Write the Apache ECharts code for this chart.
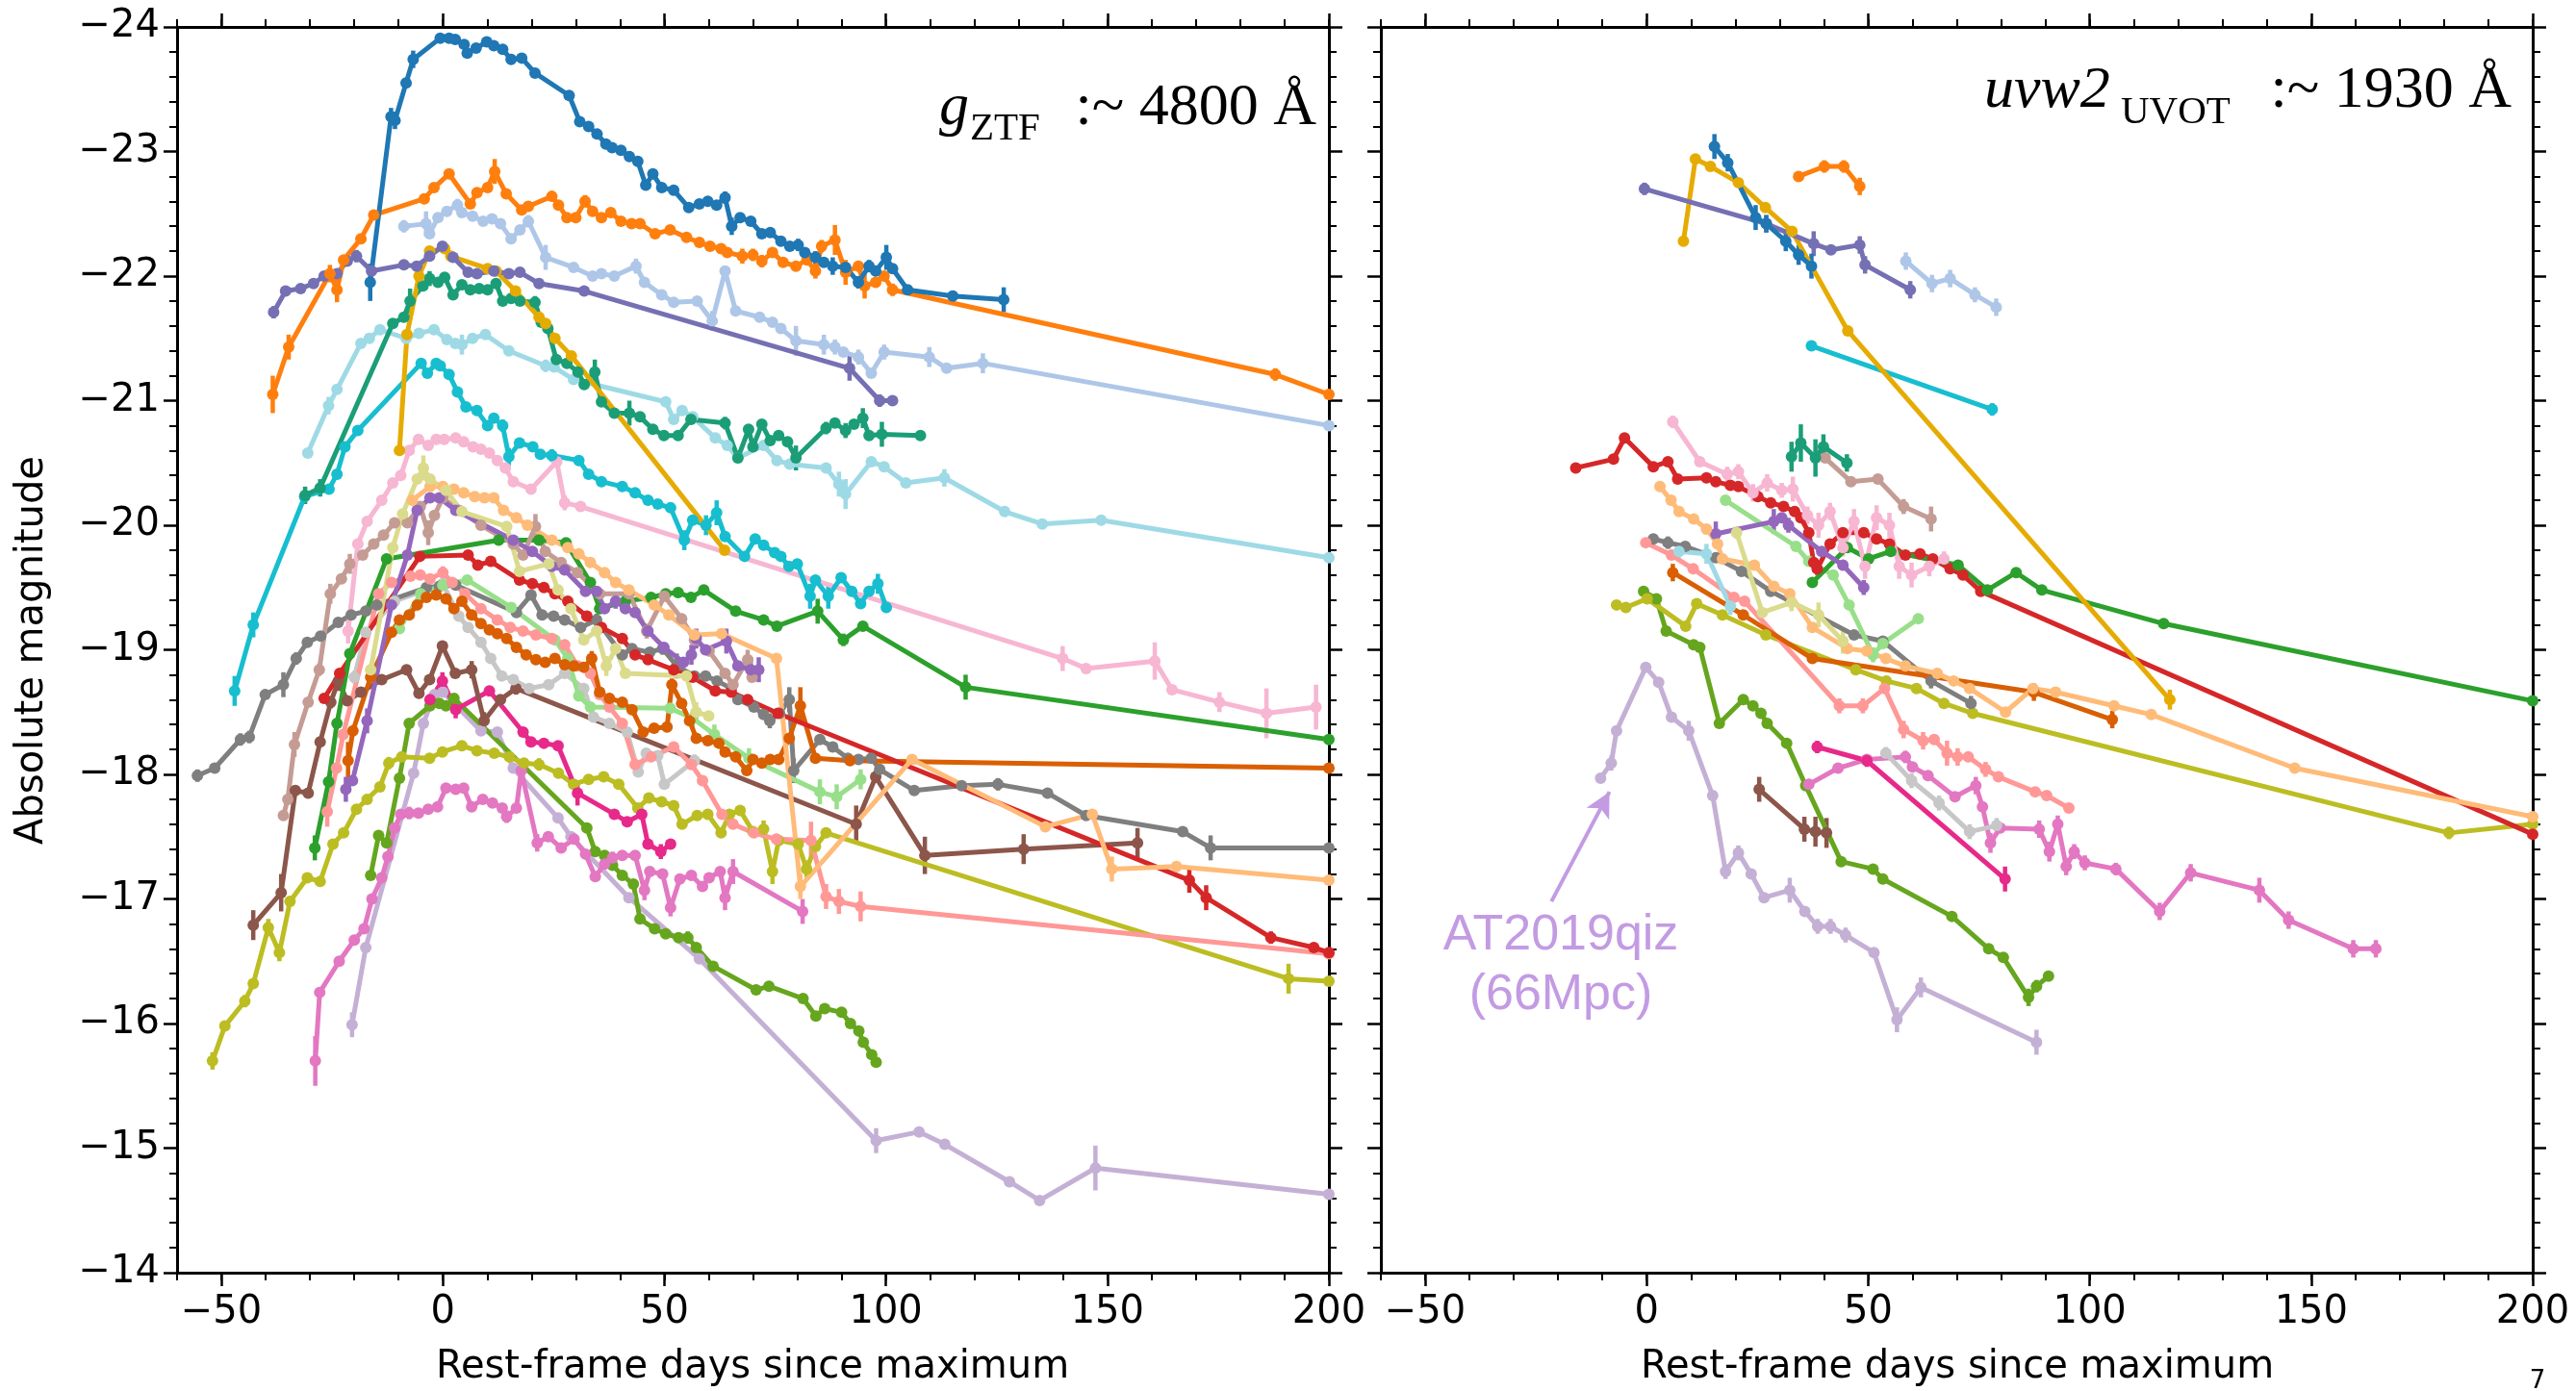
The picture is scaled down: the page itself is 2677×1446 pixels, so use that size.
<!DOCTYPE html>
<html><head><meta charset="utf-8">
<script src="https://cdn.jsdelivr.net/npm/echarts@6/dist/echarts.min.js"></script>
<style>html,body{margin:0;padding:0;background:#fff}#c{width:2677px;height:1446px}</style>
</head><body><div id="c"></div>
<script>
// ---------- tick values ----------
const xTicks = [-50, 0, 50, 100, 150, 200];
const yTicks = [-24, -23, -22, -21, -20, -19, -18, -17, -16, -15, -14];

// ---------- g_ZTF panel: [day, abs mag, err] ----------
const g_blue = [[-16.4,-21.95,0.15],[-11.7,-23.28,0.07],[-10.8,-23.25,0.07],[-8.3,-23.55],[-6.7,-23.74,0.07],[-0.6,-23.91],[1.4,-23.91],[2.8,-23.9],[4.8,-23.86],[5.5,-23.79],[7.5,-23.83],[9.9,-23.88],[11.5,-23.85],[13.5,-23.82],[15.4,-23.74],[17.8,-23.75],[20.8,-23.63],[28.5,-23.45],[30.9,-23.24],[32.9,-23.2],[34.8,-23.14],[36.8,-23.06],[38.2,-23.03],[40.2,-23.01],[42.1,-22.96],[44.0,-22.92],[45.8,-22.73],[47.4,-22.82],[49.4,-22.71],[52.1,-22.69],[55.5,-22.55],[57.9,-22.58],[59.8,-22.6],[61.8,-22.57],[63.7,-22.63,0.05],[65.2,-22.4,0.07],[67.1,-22.47],[69.5,-22.44],[72,-22.34],[73.9,-22.35],[76.3,-22.28],[78.3,-22.24],[80.2,-22.25,0.05],[81.7,-22.19],[84.1,-22.15,0.05],[86,-22.11],[88,-22.08,0.07],[90.9,-22.07],[93.8,-21.95,0.05],[96.2,-22.08,0.05],[97.7,-22.04],[100.1,-22.15,0.1],[101.5,-22.06],[104.9,-21.89],[115.1,-21.84,0.04],[126.6,-21.81,0.1]];
const g_orange = [[-38.4,-21.05,0.15],[-34.8,-21.43,0.1],[-25.5,-22.02,0.07],[-23.9,-21.89,0.1],[-22.4,-22.13],[-18.5,-22.3],[-15.6,-22.49],[-4.2,-22.62,0.04],[-2.0,-22.71],[1.4,-22.82],[6.2,-22.58],[7.7,-22.67],[10.1,-22.71],[11.7,-22.84,0.1],[14.3,-22.66],[17.8,-22.53],[19.3,-22.56],[24.6,-22.64],[26.1,-22.57],[28,-22.47],[30,-22.47],[32.1,-22.6,0.05],[33.8,-22.52],[35.8,-22.47],[37.9,-22.51],[40.2,-22.44],[42.6,-22.42],[44.5,-22.42],[47.9,-22.34],[51.3,-22.37],[55,-22.31],[57.9,-22.27],[60.3,-22.24],[62.8,-22.22],[64.2,-22.19],[67.6,-22.16,0.06],[70,-22.17,0.05],[72,-22.12,0.05],[74.4,-22.19],[76.8,-22.11],[79.7,-22.08],[82.2,-22.13],[84.1,-22.04,0.06],[85.5,-22.24,0.05],[88.5,-22.29,0.12],[90.9,-22.03,0.1],[93.8,-22.08],[95.2,-21.92,0.1],[97.7,-21.95],[99.6,-22.0],[101.5,-21.89,0.05],[187.9,-21.21,0.05],[200,-21.05]];
const g_lightblue = [[-8.8,-22.40,0.05],[-3.8,-22.42,0.1],[-3.0,-22.34],[-1.1,-22.47],[0.9,-22.52],[3.3,-22.57,0.05],[4.3,-22.51],[6.7,-22.48],[9.1,-22.44],[11.1,-22.46],[13,-22.42],[15.4,-22.3],[17.4,-22.37],[19.3,-22.44,0.05],[23.2,-22.15,0.1],[29.5,-22.07],[33.8,-22.0],[35.8,-22.02],[38.7,-22.0],[43.6,-22.08,0.06],[45.5,-21.95],[49.4,-21.85],[52.1,-21.79],[57.4,-21.8],[60.8,-21.64,0.08],[63.7,-22.04],[66.1,-21.72],[71.5,-21.67],[74.4,-21.63],[76.3,-21.58],[79.7,-21.48,0.12],[86,-21.45,0.08],[88.5,-21.43,0.06],[90.4,-21.39],[93.8,-21.35,0.06],[96.7,-21.22],[99.6,-21.39,0.06],[109.8,-21.35,0.08],[113.7,-21.26],[121.9,-21.3,0.08],[200,-20.8]];
const g_purple2 = [[-38.2,-21.71,0.05],[-35.5,-21.88],[-32.1,-21.9],[-29.2,-21.94],[-26.8,-22.0],[-23.9,-22.02],[-21.6,-22.12],[-19.5,-22.16,0.05],[-16.1,-22.04],[-8.8,-22.09],[-5.9,-22.08],[-3.0,-22.16],[-0.1,-22.24],[2.3,-22.15],[5.7,-22.03],[7.7,-22.02],[11.5,-22.04],[14.9,-22.02],[17.4,-22.03],[21.7,-21.94,0.04],[31.9,-21.88],[91.8,-21.26,0.1],[98.6,-21.0,0.05],[101.5,-21.0]];
const g_gold = [[-9.8,-20.6],[-8.1,-21.53],[-5.4,-22.0],[-3.0,-22.2],[0.4,-22.22],[1.8,-22.16],[10.1,-22.06],[12.0,-22.04],[16.4,-21.88],[21.7,-21.67],[23.2,-21.62],[25.3,-21.5],[29,-21.36],[63.6,-19.8]];
const g_teal = [[-31.1,-20.24,0.07],[-27.7,-20.3,0.07],[-11.3,-21.62],[-8.8,-21.67],[-7.4,-21.8,0.1],[-4.5,-21.92],[-3.0,-21.98,0.06],[-1.1,-21.95],[0.4,-21.99],[2.3,-21.85],[4.3,-21.93],[6.2,-21.89],[8.2,-21.9],[10.1,-21.89],[12,-21.94],[13.5,-21.8],[15.4,-21.82],[17.4,-21.8],[20.8,-21.79,0.05],[22.2,-21.63],[23.7,-21.58],[25.6,-21.33],[28,-21.3],[30.5,-21.23],[31.9,-21.13,0.04],[34.3,-21.23,0.1],[35.8,-20.99],[38.7,-20.9],[42.1,-20.9,0.1],[44.5,-20.87],[47.4,-20.77],[49.9,-20.72],[53.1,-20.72],[56,-20.85],[63.7,-20.82,0.05],[66.6,-20.54],[69,-20.77],[70,-20.63],[72,-20.81],[73.9,-20.68],[75.8,-20.72],[77.8,-20.67],[79.7,-20.54,0.1],[86.5,-20.78,0.05],[88.5,-20.82],[90.9,-20.76,0.06],[92.8,-20.81],[94.8,-20.86,0.08],[96.2,-20.72],[99.1,-20.73,0.1],[107.8,-20.72]];
const g_lightcyan = [[-30.5,-20.58],[-25.8,-20.96,0.07],[-23.9,-21.09],[-18.5,-21.46],[-16.6,-21.5],[-14.2,-21.57],[-8.3,-21.5],[-5.4,-21.54],[-2.0,-21.57],[0.9,-21.49],[2.8,-21.46],[4.3,-21.45,0.08],[6.7,-21.5],[9.6,-21.53],[14.9,-21.4],[23.2,-21.28,0.05],[25.1,-21.27],[29.5,-21.17],[50.3,-20.99],[52.1,-20.85],[54,-20.92],[56.4,-20.87],[61.5,-20.7],[64.2,-20.64],[66.6,-20.54],[72.4,-20.64],[75.4,-20.52],[78.3,-20.49],[86.5,-20.46],[89.4,-20.33,0.1],[90.9,-20.25,0.12],[96.7,-20.51],[99.6,-20.47],[104.5,-20.34],[113.2,-20.38,0.07],[126.8,-20.11],[135.3,-20.01],[148.6,-20.04],[200,-19.74]];
const g_cyan = [[-47,-18.67,0.12],[-42.8,-19.2,0.1],[-31.2,-20.23],[-25.7,-20.29],[-23.9,-20.41],[-22.1,-20.63],[-19.2,-20.76],[-4.9,-21.3],[-3.5,-21.22],[-1.5,-21.3],[-0.6,-21.28],[1.4,-21.21],[3.3,-21.07],[5.2,-20.95],[7.7,-20.92],[10.1,-20.8],[11.5,-20.86],[13.5,-20.8,0.05],[14.9,-20.55,0.07],[17.3,-20.66],[20.3,-20.63],[22.0,-20.57],[24.6,-20.56,0.05],[30.7,-20.52],[32.9,-20.41],[35.8,-20.35],[40.5,-20.31],[43.4,-20.26],[46.3,-20.2],[48.5,-20.17],[51.4,-20.14],[54.5,-19.88,0.08],[56.4,-20.04],[59.4,-20.0,0.08],[61.8,-20.1,0.1],[63.7,-19.91],[68.1,-19.75],[70.5,-19.89],[72.4,-19.84],[74.9,-19.78],[76.3,-19.75],[78.1,-19.67],[80,-19.69],[82.9,-19.43,0.1],[84.1,-19.56],[87,-19.43,0.1],[89.9,-19.58],[92.3,-19.47],[94.3,-19.37],[96.2,-19.47],[98.2,-19.53,0.08],[100.1,-19.34]];
const g_lightpink = [[-21.4,-19.15,0.1],[-19.2,-19.85],[-17.1,-20.03],[-13.8,-20.2],[-11.3,-20.34],[-9.5,-20.4],[-7.6,-20.6],[-5.5,-20.69],[-3.3,-20.64],[-1.5,-20.69],[0.3,-20.69],[2.9,-20.70],[4.7,-20.67],[6.8,-20.63],[8.6,-20.61],[10.5,-20.58],[12.3,-20.52],[14.1,-20.46],[15.9,-20.35],[19.9,-20.29],[25.7,-20.51,0.05],[27.5,-20.18,0.06],[31.1,-20.15],[139.9,-18.93,0.1],[145.2,-18.85],[160.7,-18.91,0.15],[164.6,-18.68],[175.3,-18.58,0.08],[185.9,-18.49,0.2],[197.1,-18.54,0.18]];
const g_green = [[-28.9,-17.41,0.1],[-25.8,-17.94],[-23.9,-18.41],[-21,-18.97],[-12.7,-19.73],[12.6,-19.88],[21.7,-19.88],[27.8,-19.86],[33.3,-19.54],[35.4,-19.33],[41.2,-19.39],[47,-19.42],[50.3,-19.45],[53.1,-19.46],[56,-19.42],[58.9,-19.48],[66.1,-19.31],[72.4,-19.24],[75.4,-19.19],[84.6,-19.31,0.1],[90.4,-19.08,0.05],[94.8,-19.19],[118,-18.7,0.1],[200,-18.28]];
const g_red = [[-26.8,-18.61],[-23.3,-18.81],[-5.2,-19.75],[5.7,-19.76],[7.9,-19.68],[10.8,-19.71],[17.3,-19.56],[20.2,-19.53],[22.8,-19.5],[25.3,-19.45],[28.2,-19.39],[32.5,-19.27],[35.8,-19.18],[40.5,-19.09],[43.4,-18.96],[46.3,-18.92],[52.1,-18.84],[56.4,-18.78],[61.5,-18.67],[65.1,-18.66],[68.8,-18.6],[75.6,-18.49],[168.5,-17.15,0.1],[172.3,-17.01,0.1],[186.9,-16.69,0.05],[196.6,-16.61],[200,-16.57]];
const g_salmon = [[-26.1,-17.7,0.12],[-24,-18.05],[-22.5,-18.32],[-14.5,-19.45],[-11.6,-19.54],[-7.3,-19.59],[-5.1,-19.6],[-2.9,-19.57],[0,-19.62,0.05],[2.1,-19.54],[5,-19.45],[8.6,-19.33],[12.3,-19.24],[15.2,-19.18],[18.1,-19.15],[21,-19.12],[24.6,-19.09],[27.5,-19.04],[30.4,-18.87],[33.3,-18.81],[35.4,-18.64],[37.6,-18.54],[40.5,-18.41],[43.4,-18.08],[47,-18.14],[52.1,-18.22],[56.1,-18.08],[58.6,-17.95],[63,-17.68],[65.5,-17.6],[70.2,-17.53],[75.3,-17.48],[83.1,-17.47,0.15],[86.5,-17.02,0.1],[89.4,-16.98,0.1],[94.3,-16.94,0.12],[200,-16.56]];
const g_lightgreen = [[-9.8,-19.17],[-5,-19.45],[0,-19.52],[5.5,-19.56],[15.4,-19.34],[25.3,-19.08],[28.2,-18.93],[30.7,-18.63],[33.3,-18.54],[51.3,-18.53],[56.4,-18.45,0.07],[61.3,-18.32,0.08],[69.1,-18.13,0.08],[85.1,-17.86,0.1],[88.9,-17.82,0.1],[94.3,-17.96,0.08]];
const g_grey = [[-55.4,-17.99,0.05],[-51.5,-18.05],[-45.7,-18.28,0.05],[-43.7,-18.3,0.05],[-40.1,-18.64],[-36,-18.72,0.1],[-33.1,-18.93,0.05],[-30.6,-19.06],[-27.6,-19.11],[-23.6,-19.22],[-20.7,-19.28],[-17.4,-19.31],[-14.9,-19.36],[-3.7,-19.5],[-0.8,-19.51],[2.9,-19.52],[16.6,-19.3],[19.9,-19.44],[22.4,-19.28],[25,-19.27],[27.5,-19.24],[31.1,-19.18],[34.7,-19.24,0.05],[40.5,-18.96],[42.7,-19.01],[46.7,-18.98],[49.6,-19.01,0.05],[52.8,-18.87,0.1],[56.8,-18.79],[59.3,-18.79],[61.9,-18.75],[65.1,-18.69],[66.6,-18.6],[70.2,-18.54],[72.4,-18.48],[73.8,-18.43,0.06],[76,-18.49],[78.2,-18.6,0.1],[79.2,-18.03,0.1],[85.1,-18.28],[88,-18.22],[91.4,-18.13],[93.8,-18.12],[96.7,-18.13],[98.6,-18.04],[106.4,-17.87],[117.1,-17.91],[125.3,-17.92,0.05],[136.5,-17.85],[145.2,-17.67],[167,-17.54],[173.3,-17.41,0.1],[200,-17.41]];
const g_darkorange = [[-21.4,-18.11,0.15],[-20.3,-18.35],[-16.3,-18.78],[-11.6,-19.14],[-9.8,-19.24],[-7.6,-19.28],[-5.8,-19.36],[-3.7,-19.42],[-1.5,-19.44],[0.7,-19.41],[2.5,-19.33],[4.3,-19.39],[6.5,-19.28],[8.6,-19.21],[10.5,-19.16],[12.3,-19.13],[14.4,-19.09],[16.6,-19.02],[18.8,-18.96],[21,-18.92],[23.1,-18.9],[25.3,-18.93],[27.5,-18.88],[29.6,-18.87],[31.8,-18.86],[33.6,-18.93,0.06],[35.4,-18.66],[37.6,-18.61],[40.5,-18.58],[42.7,-18.52],[45.2,-18.34],[47.7,-18.37],[50.6,-18.38],[51.7,-18.72,0.05],[53.9,-18.57],[55.7,-18.43],[57.2,-18.29],[59.8,-18.27],[62.3,-18.25],[63.7,-18.18],[66.1,-18.14],[68.6,-18.03],[70,-18.12],[72,-18.09],[73.9,-18.12],[75.8,-18.12],[78.2,-18.29],[80.7,-18.55,0.15],[84.1,-18.13],[91.9,-18.11],[200,-18.05]];
const g_lightgrey = [[-20,-18.78,0.05],[-17.4,-19.14],[-10.9,-19.39],[0,-19.53],[3.6,-19.27],[5.7,-19.18],[8.6,-19.06],[10.8,-18.93],[13.3,-18.79],[15.9,-18.76],[19.5,-18.69],[23.9,-18.72],[27.5,-18.81],[31.8,-18.69],[34,-18.46],[37.6,-18.41],[41.6,-18.34],[44.1,-18.02],[45.9,-18.17],[48.5,-18.15],[50,-17.92],[56.8,-18.11,0.05]];
const g_brown = [[-42.8,-16.79,0.12],[-36.5,-17.05,0.15],[-33.3,-17.87],[-30.4,-17.85],[-27.7,-18.26],[-25.3,-18.58,0.05],[-23.6,-18.75,0.08],[-21.6,-18.59],[-18.5,-18.66],[-13.8,-18.76],[-8.2,-18.84],[-5.4,-18.65],[-3,-18.76],[-0.1,-19.03],[2.8,-18.81],[6.5,-18.84,0.07],[9.3,-18.43,0.07],[13,-18.6],[16.5,-18.69,0.05],[93.3,-17.6,0.15],[97.7,-17.98,0.05],[108.8,-17.35,0.15],[131.1,-17.4,0.12],[156.8,-17.45,0.12]];
const g_lavender = [[-20.5,-15.99,0.1],[-17.4,-16.61],[-6.6,-18.01],[-4.4,-18.41],[-1.9,-18.64],[0,-18.66],[8.6,-18.35],[12.3,-18.34],[15.9,-18.05],[26,-17.65],[28.9,-17.5],[42,-17.01],[57.9,-16.52],[97.8,-15.06,0.1],[107.5,-15.13],[113.3,-15.03],[127.9,-14.73],[134.7,-14.58],[147.3,-14.84,0.18],[200,-14.63]];
const g_darkgreen = [[-16.3,-17.19],[-14.5,-17.51],[-12.7,-17.45],[-9.8,-17.97],[-7.6,-18.41],[-2.9,-18.55],[-0.8,-18.57],[0.7,-18.55],[2.5,-18.61],[32.5,-17.57],[34.4,-17.38],[36.5,-17.35],[38.3,-17.27],[40.5,-17.19],[43,-17.12],[44.5,-16.84],[47.8,-16.76],[50.3,-16.72],[53.2,-16.69],[55.3,-16.69,0.05],[57.2,-16.61],[61,-16.46],[70.7,-16.27],[73.6,-16.3],[81.3,-16.2],[84.2,-16.06],[86.2,-16.12],[90,-16.09],[92,-16.0],[93.9,-15.94],[94.9,-15.85],[96.8,-15.75],[97.8,-15.69]];
const g_magenta = [[-2.9,-18.6],[-0.1,-18.75,0.07],[2.9,-18.52,0.07],[10.5,-18.67],[18.1,-18.34],[19.9,-18.26],[22.8,-18.25],[26,-18.23],[30.4,-17.85,0.1],[38.7,-17.68],[41.6,-17.62],[44.9,-17.68],[46.3,-17.44],[49.2,-17.38,0.06],[51.4,-17.44]];
const g_olive = [[-52,-15.7,0.07],[-49.2,-15.98],[-44.7,-16.18,0.05],[-42.8,-16.32],[-39.4,-16.77,0.07],[-36.9,-16.57,0.07],[-34.5,-16.98],[-30.6,-17.17],[-27.7,-17.14],[-24.8,-17.44],[-22.4,-17.53],[-19.5,-17.72],[-17.1,-17.8],[-14.2,-17.9],[-12.2,-18.09,0.05],[-9.3,-18.14],[-3,-18.13],[-0.1,-18.18],[4.3,-18.23],[7.7,-18.19],[11.6,-18.17],[15,-18.14],[18.3,-18.09],[21.7,-18.08,0.05],[26.1,-18.01],[29.5,-17.92],[32.9,-17.96],[36.3,-17.98],[39.7,-17.92],[44,-17.73],[46.5,-17.81],[49.4,-17.78],[52.1,-17.75],[54,-17.6],[57.4,-17.67],[59.8,-17.68],[62.8,-17.53],[64.7,-17.68],[67.1,-17.71],[70,-17.54],[72.4,-17.56,0.07],[74.4,-17.22,0.1],[75.8,-17.47],[80.2,-17.44],[82.1,-17.24,0.07],[84.1,-17.42],[86.5,-17.53],[190.9,-16.36,0.12],[200,-16.34]];
const g_pink = [[-28.8,-15.7,0.2],[-27.8,-16.25],[-23.4,-16.5],[-20,-16.67],[-17.8,-16.76],[-16,-17.0],[-13.8,-17.17],[-12.4,-17.34],[-10.9,-17.57],[-9.5,-17.68],[-7.6,-17.69,0.05],[-5.5,-17.69],[-3.3,-17.72],[-1.2,-17.74],[0.7,-17.89],[2.9,-17.88],[4.7,-17.89],[6.5,-17.74],[9,-17.8],[11.2,-17.77],[13.4,-17.73],[14.4,-17.66,0.05],[16.6,-17.73],[17.7,-18.03],[21.3,-17.45,0.07],[23.8,-17.5],[26.7,-17.41],[29.6,-17.48],[32.2,-17.36],[34.4,-17.18],[36.5,-17.28],[38.3,-17.33,0.05],[40.5,-17.35],[43.4,-17.35],[45.5,-17.07,0.08],[46.7,-17.22],[49.6,-17.2],[51.4,-16.93,0.07],[53.5,-17.16],[56.1,-17.19],[58.6,-17.1],[60.1,-17.17],[62.6,-17.22],[63.7,-17.01,0.1],[65.5,-17.22,0.1],[81.2,-16.9,0.1]];
const g_lightbrown = [[-36,-17.67],[-35,-17.8],[-33.5,-18.24,0.1],[-30.4,-18.58],[-27.9,-18.84,0.05],[-25.4,-19.45,0.08],[-22.9,-19.57],[-21,-19.69,0.08],[-18.1,-19.76],[-15.6,-19.85],[-13.4,-19.92],[-10.9,-20.02],[-8,-20.02],[-5.1,-20.15],[-3.3,-19.94,0.1],[-1.9,-20.08],[0,-20.22],[3.6,-20.12],[8.6,-20.0],[15.9,-19.85],[18.1,-19.76],[20.9,-19.99,0.1],[23.1,-19.79],[26.7,-19.7],[30.4,-19.62],[35.4,-19.45],[42,-19.45],[46,-19.15,0.06],[50,-19.43],[53.9,-19.25],[56.8,-19.08],[60.1,-18.99],[63.7,-18.81],[65.5,-18.72],[68.8,-18.92,0.08],[69.8,-18.78]];
const g_purple = [[-21.9,-17.88,0.1],[-20.4,-17.95],[-17.1,-18.43,0.1],[-11.6,-19.36],[-8,-19.76],[-5.8,-20.12],[-2.9,-20.22],[-0.8,-20.22],[2.9,-20.12],[15.9,-19.88],[20.2,-19.79],[24.6,-19.67],[27.5,-19.64],[32.2,-19.47],[34.7,-19.47],[36.5,-19.33],[39,-19.39,0.06],[41.2,-19.33],[43.4,-19.3],[46.3,-19.15],[49.9,-19.02],[54.3,-18.9],[56.1,-18.96,0.08],[57.2,-19.09,0.08],[59.3,-19.0],[64,-19.07,0.1],[66.6,-18.87],[69.5,-18.84,0.1],[71.3,-18.84,0.1]];
const g_lightolive = [[-16.3,-18.84],[-11.3,-19.82],[-9.1,-20.09],[-5.8,-20.37],[-4.4,-20.46,0.1],[-2.9,-20.37],[0.7,-20.28],[4.3,-20.11],[14.4,-19.99],[17.3,-19.63],[23.9,-19.69],[26,-19.48],[28.9,-19.33],[31.8,-19.08],[34.7,-19.15],[36.9,-18.87,0.08],[39,-19.01],[41.2,-18.81],[55,-18.79],[57.2,-18.5,0.08],[60,-18.47]];
const g_lightorange = [[-6.9,-20.2],[-2.9,-20.31],[0,-20.31],[2.5,-20.29],[4.7,-20.26],[7.2,-20.23],[9.4,-20.22],[11.5,-20.22],[13.7,-20.12],[16.6,-20.06],[19.1,-20.0],[24.6,-19.88],[28.2,-19.82],[30.7,-19.77],[33.3,-19.7],[36.5,-19.62],[39,-19.54],[42,-19.48],[47.7,-19.36],[51,-19.28],[56.8,-19.12],[62.9,-19.13],[75.3,-18.93],[80.7,-17.1,0.1],[105.9,-18.12],[136,-17.58],[146.6,-17.68],[151,-17.24,0.1],[165.6,-17.26],[200,-17.15]];

// ---------- uvw2_UVOT panel: [day, abs mag, err] ----------
const uv_blue = [[15.3,-23.04,0.1],[18.3,-22.91,0.07],[24.6,-22.47,0.1],[27,-22.42,0.07],[31.4,-22.28,0.08],[34.3,-22.17,0.08],[37.2,-22.08,0.1]];
const uv_gold = [[8.3,-22.28],[11,-22.94],[14.4,-22.88],[20.7,-22.75],[26.8,-22.55],[32.8,-22.36],[45.4,-21.56],[118.1,-18.6,0.08]];
const uv_purple2 = [[-0.5,-22.7,0.05],[27,-22.42,0.07],[37.7,-22.26,0.1],[41.6,-22.21],[48.1,-22.25,0.07],[49.3,-22.09,0.07],[59.5,-21.89,0.07]];
const uv_orange = [[34.3,-22.8,0.04],[40.1,-22.88,0.05],[44.5,-22.88,0.05],[48.1,-22.72,0.07]];
const uv_lightblue = [[58.5,-22.12,0.07],[64.4,-21.94,0.07],[68.5,-21.98,0.07],[74.1,-21.85,0.06],[78.9,-21.75,0.07]];
const uv_cyan = [[37.2,-21.44,0.03],[78,-20.93,0.05]];
const uv_red = [[-16,-20.46],[-7.5,-20.53],[-5,-20.7],[1.5,-20.47],[4.8,-20.51],[7,-20.37],[13.5,-20.38],[15.6,-20.35],[18.9,-20.32],[20.7,-20.31],[25.1,-20.23],[28,-20.18],[30.9,-20.15],[33.4,-20.11],[34.8,-20.06],[36.6,-19.94],[37.7,-19.7],[38.5,-19.65,0.05],[41.4,-19.85],[44.3,-19.94],[49,-19.94],[51.9,-19.89],[54.8,-19.85],[58.4,-19.76],[61.7,-19.77],[64.6,-19.73],[68.5,-19.65],[71.4,-19.6],[75.4,-19.47],[200,-17.52]];
const uv_lightpink = [[5.9,-20.83,0.05],[12,-20.51],[18.2,-20.41,0.06],[20.7,-20.43,0.06],[24,-20.26,0.07],[27.2,-20.34,0.07],[30.5,-20.28,0.06],[33,-20.29,0.1],[36.3,-20.08,0.07],[38.8,-20.0,0.1],[41.4,-20.11,0.07],[44.3,-19.82,0.07],[46.8,-20.03,0.1],[49.3,-19.67,0.1],[51.9,-20.06,0.1],[54.8,-20.0,0.1],[57,-19.67,0.1],[59.8,-19.6,0.1],[63.8,-19.67,0.08],[67.1,-19.73,0.06]];
const uv_teal = [[32.7,-20.55,0.12],[34.8,-20.66,0.15],[38.1,-20.54,0.15],[39.9,-20.63,0.1],[45.2,-20.5,0.07]];
const uv_lightbrown = [[40.3,-20.54],[46.1,-20.35],[52.2,-20.37],[58,-20.15,0.06],[64.2,-20.05,0.1]];
const uv_green = [[37.4,-19.54],[45.3,-19.82],[50.1,-19.73],[55.1,-19.79],[70.3,-19.68],[76.9,-19.48],[83.4,-19.62],[89.2,-19.48],[116.7,-19.21],[200,-18.59]];
const uv_lightorange = [[3,-20.31],[5.5,-20.2],[7.3,-20.11],[10.6,-20.05],[13.5,-19.97],[16,-19.85],[17.1,-19.73],[24.3,-19.68],[28.7,-19.51],[32.3,-19.45],[37.4,-19.18],[45.3,-19.01],[49.7,-18.99],[54,-18.93],[58.4,-18.87],[65.6,-18.81],[69.3,-18.75],[72.9,-18.69],[81,-18.5],[87.2,-18.69],[92.3,-18.66],[105.5,-18.55],[113.9,-18.48],[146.3,-18.05],[200,-17.66]];
const uv_salmon = [[-0.2,-19.86],[5.6,-19.76],[10.5,-19.65],[19.7,-19.42],[22.1,-19.39],[43.5,-18.55,0.06],[48.8,-18.55,0.06],[53.7,-18.69],[58,-18.36,0.07],[62.4,-18.27,0.07],[64.9,-18.28],[67.8,-18.17,0.1],[70.2,-18.14,0.07],[72.6,-18.14],[76.5,-18.04,0.06],[79.4,-17.98],[87.7,-17.86],[90.3,-17.83],[95.3,-17.73]];
const uv_lightgreen = [[17.8,-20.2],[33.7,-19.83],[36.6,-19.71],[42.1,-19.6],[45.7,-19.36],[51.1,-18.96,0.06],[53.3,-19.05],[61.3,-19.25]];
const uv_purple = [[15.6,-19.93,0.1],[28.7,-20.03,0.1],[30.5,-20.06],[32,-20.0,0.06],[39.5,-19.79],[44.3,-19.68],[49,-19.5,0.06]];
const uv_grey = [[1.5,-19.89],[4.8,-19.86,0.05],[8.7,-19.83],[15.6,-19.74],[21.4,-19.63],[28,-19.47],[46.8,-19.12],[53.3,-19.07],[64.2,-18.75,0.06],[73.2,-18.57,0.06]];
const uv_lightcyan = [[7.3,-19.79,0.05],[13.5,-19.77,0.08],[18.9,-19.35,0.07]];
const uv_lightolive = [[20.3,-19.94,0.05],[26.1,-19.3],[32.7,-19.38,0.07],[38.8,-19.28,0.1],[44.3,-19.07,0.1]];
const uv_darkorange = [[5.9,-19.62,0.07],[21.8,-19.28],[37.4,-18.93],[87.4,-18.66,0.07],[105.1,-18.44,0.07]];
const uv_olive = [[-6.8,-19.36],[-4.7,-19.34],[0.1,-19.41],[8.8,-19.19],[11.3,-19.37],[17.1,-19.28],[26.9,-19.12],[47.2,-18.84],[54.1,-18.75],[60.9,-18.69],[67.1,-18.57],[73.6,-18.49],[181.1,-17.53,0.05],[200,-17.6]];
const uv_darkgreen = [[-0.7,-19.47],[2.2,-19.41],[4.4,-19.15],[10.6,-19.04],[12,-19.02],[16.4,-18.41],[21.8,-18.6],[24,-18.55],[25.8,-18.49],[27.2,-18.41],[31.6,-18.25],[35.9,-17.91],[43.9,-17.3],[51.1,-17.24],[53.3,-17.16],[68.9,-16.86],[77.2,-16.6],[80.5,-16.53],[86.2,-16.21,0.07],[88,-16.3,0.05],[90.7,-16.38]];
const uv_brown = [[25.4,-17.88,0.1],[35.6,-17.56,0.1],[38.1,-17.54,0.12],[40.6,-17.53,0.12]];
const uv_magenta = [[38.5,-18.22,0.05],[49.7,-18.11,0.05],[80.9,-17.16,0.1]];
const uv_pink = [[36.6,-17.92],[43.2,-18.05],[49.7,-18.12],[58.4,-18.14,0.05],[60,-18.06],[63.5,-17.99],[69.6,-17.82],[74.3,-17.91,0.07],[75.8,-17.74],[77.6,-17.45,0.08],[79.8,-17.57],[88.6,-17.56,0.07],[90.9,-17.38,0.08],[92.8,-17.6,0.07],[94.7,-17.26,0.07],[96.5,-17.38,0.06],[98.9,-17.29,0.06],[105.9,-17.24,0.05],[115.8,-16.9,0.07],[122.8,-17.21,0.07],[138.3,-17.07,0.1],[144.9,-16.83,0.07],[159.5,-16.6,0.07],[164.6,-16.6,0.07]];
const uv_lightgrey = [[54,-18.17,0.05],[59.8,-17.95,0.06],[66,-17.77,0.06],[72.9,-17.54,0.06],[79,-17.59,0.06]];
const uv_lavender = [[-10.4,-17.97],[-8,-18.09,0.06],[-6.8,-18.35],[-0.2,-18.86],[2.7,-18.74],[5.6,-18.46],[9.5,-18.35,0.08],[14.9,-17.83],[17.8,-17.22,0.06],[20.7,-17.37,0.06],[23.6,-17.2],[26.5,-17.01],[32.3,-17.07,0.1],[35.7,-16.9],[38.6,-16.78,0.06],[41.5,-16.78,0.06],[44.9,-16.71,0.06],[51.3,-16.57],[56.5,-16.03,0.1],[61.9,-16.29,0.08],[88,-15.85,0.1]];

// annotation (data coordinates of the right panel)
const annotText = ['AT2019qiz', '(66Mpc)'];
const arrowFrom = [-21.5, -16.98];
const arrowTo = [-8.4, -17.86];

// ---------- styles ----------
const COLORS = {
  blue:'#1f77b4', orange:'#ff7f0e', lightblue:'#aec7e8', purple2:'#7570b3', gold:'#e6ab02',
  teal:'#1b9e77', lightcyan:'#9edae5', cyan:'#17becf', lightpink:'#f7b6d2', green:'#2ca02c',
  red:'#d62728', salmon:'#ff9896', lightgreen:'#98df8a', grey:'#7f7f7f', darkorange:'#d95f02',
  lightgrey:'#c7c7c7', brown:'#8c564b', lavender:'#c5b0d5', darkgreen:'#66a61e', magenta:'#e7298a',
  olive:'#bcbd22', pink:'#e377c2', lightbrown:'#c49c94', purple:'#9467bd', lightolive:'#dbdb8d',
  lightorange:'#ffbb78'
};
const G_SETS = [
  ['lavender', g_lavender], ['darkgreen', g_darkgreen], ['pink', g_pink], ['olive', g_olive],
  ['magenta', g_magenta], ['brown', g_brown], ['lightgrey', g_lightgrey], ['grey', g_grey],
  ['lightgreen', g_lightgreen], ['salmon', g_salmon], ['darkorange', g_darkorange], ['red', g_red],
  ['green', g_green], ['lightbrown', g_lightbrown], ['purple', g_purple], ['lightorange', g_lightorange],
  ['lightolive', g_lightolive], ['lightpink', g_lightpink], ['cyan', g_cyan], ['lightcyan', g_lightcyan],
  ['teal', g_teal], ['gold', g_gold], ['purple2', g_purple2], ['lightblue', g_lightblue],
  ['orange', g_orange], ['blue', g_blue]
];
const UV_SETS = [
  ['lavender', uv_lavender], ['darkgreen', uv_darkgreen], ['pink', uv_pink], ['olive', uv_olive],
  ['magenta', uv_magenta], ['brown', uv_brown], ['lightgrey', uv_lightgrey], ['grey', uv_grey],
  ['lightgreen', uv_lightgreen], ['salmon', uv_salmon], ['darkorange', uv_darkorange], ['red', uv_red],
  ['green', uv_green], ['lightbrown', uv_lightbrown], ['purple', uv_purple], ['lightorange', uv_lightorange],
  ['lightolive', uv_lightolive], ['lightpink', uv_lightpink], ['lightcyan', uv_lightcyan], ['cyan', uv_cyan],
  ['teal', uv_teal], ['gold', uv_gold], ['purple2', uv_purple2], ['lightblue', uv_lightblue],
  ['orange', uv_orange], ['blue', uv_blue]
];

const LABEL_FONT = 'DejaVu Sans';
const minus = v => (v < 0 ? '\u2212' : '') + Math.abs(v);
const AX = '#000';

function xAxesFor(grid, withLabels) {
  const base = { type:'value', gridIndex:grid, min:-60, max:200, splitLine:{show:false} };
  return [
    Object.assign({}, base, { position:'bottom',
      axisLine:{show:true, onZero:false, lineStyle:{color:AX, width:3}},
      axisTick:{show:true, customValues:xTicks, length:14, lineStyle:{color:AX, width:2.5}},
      axisLabel:{show:withLabels, customValues:xTicks, formatter:minus, color:'#000', fontSize:40, fontFamily:LABEL_FONT, margin:22}
    }),
    Object.assign({}, base, { position:'bottom', interval:10,
      axisLine:{show:false, onZero:false}, axisTick:{show:true, length:8, lineStyle:{color:AX, width:2}},
      axisLabel:{show:false}
    }),
    Object.assign({}, base, { position:'top',
      axisLine:{show:true, onZero:false, lineStyle:{color:AX, width:3}},
      axisTick:{show:true, customValues:xTicks, length:14, lineStyle:{color:AX, width:2.5}},
      axisLabel:{show:false}
    }),
    Object.assign({}, base, { position:'top', interval:10,
      axisLine:{show:false, onZero:false}, axisTick:{show:true, length:8, lineStyle:{color:AX, width:2}},
      axisLabel:{show:false}
    })
  ];
}
function yAxesFor(grid, withLabels) {
  const base = { type:'value', gridIndex:grid, min:-24, max:-14, interval:1, inverse:true, splitLine:{show:false},
    axisLine:{show:true, onZero:false, lineStyle:{color:AX, width:3}},
    axisTick:{show:true, length:14, lineStyle:{color:AX, width:2.5}},
    minorTick:{show:true, splitNumber:5, length:8, lineStyle:{color:AX, width:2}} };
  return [
    Object.assign({}, base, { position:'left',
      axisLabel:{show:withLabels, formatter:minus, color:'#000', fontSize:40, fontFamily:LABEL_FONT, margin:18} }),
    Object.assign({}, base, { position:'right', axisLabel:{show:false} })
  ];
}

const series = [];
function addSets(sets, xi, yi) {
  sets.forEach(([name, arr]) => {
    const color = COLORS[name];
    series.push({
      type:'line', xAxisIndex:xi, yAxisIndex:yi, clip:true, silent:true,
      data: arr.map(p => [p[0], p[1]]),
      symbol:'circle', symbolSize:12, showSymbol:true,
      itemStyle:{color:color, borderWidth:0},
      lineStyle:{color:color, width:5},
      animation:false
    });
    const errs = arr.filter(p => p.length > 2);
    if (errs.length) {
      series.push({
        type:'custom', xAxisIndex:xi, yAxisIndex:yi, clip:true, silent:true,
        data: errs.map(p => [p[0], p[1], p[2]]),
        renderItem: (params, api) => {
          const x = api.value(0), y = api.value(1), e = api.value(2);
          const a = api.coord([x, y - e]), b = api.coord([x, y + e]);
          return { type:'line', shape:{x1:a[0], y1:a[1], x2:b[0], y2:b[1]},
                   style:{stroke:color, lineWidth:4.5} };
        },
        animation:false
      });
    }
  });
}
addSets(G_SETS, 0, 0);
addSets(UV_SETS, 4, 2);

// annotation arrow via markLine on an empty series in the right panel
series.push({
  type:'line', xAxisIndex:4, yAxisIndex:2, data:[], silent:true,
  markLine:{ silent:true, animation:false, symbol:['none','arrow'], symbolSize:[20,26], label:{show:false},
    lineStyle:{color:'#c39be3', width:4, type:'solid'},
    data:[[ {coord:arrowFrom}, {coord:arrowTo} ]] }
});

const SERIF = 'Liberation Serif';
const graphic = [
  // left title  g_ZTF :~ 4800 Å
  {type:'text', x:976, y:113, z:100, style:{text:'g', fontFamily:SERIF, fontStyle:'italic', fontSize:62, fill:'#000', align:'left', verticalAlign:'middle'}},
  {type:'text', x:1008, y:134, z:100, style:{text:'ZTF', fontFamily:SERIF, fontSize:41, fill:'#000', align:'left', verticalAlign:'middle'}},
  {type:'text', x:1368, y:113, z:100, style:{text:':~ 4800 Å', fontFamily:SERIF, fontSize:62, fill:'#000', align:'right', verticalAlign:'middle'}},
  // right title  uvw2_UVOT :~ 1930 Å
  {type:'text', x:2062, y:95, z:100, style:{text:'uvw2', fontFamily:SERIF, fontStyle:'italic', fontSize:62, fill:'#000', align:'left', verticalAlign:'middle'}},
  {type:'text', x:2204, y:117, z:100, style:{text:'UVOT', fontFamily:SERIF, fontSize:41, fill:'#000', align:'left', verticalAlign:'middle'}},
  {type:'text', x:2610, y:95, z:100, style:{text:':~ 1930 Å', fontFamily:SERIF, fontSize:62, fill:'#000', align:'right', verticalAlign:'middle'}},
  // axis titles
  {type:'text', x:34, y:676, rotation:Math.PI/2, z:100, style:{text:'Absolute magnitude', fontFamily:LABEL_FONT, fontSize:40, fill:'#000', align:'center', verticalAlign:'middle'}},
  {type:'text', x:782, y:1422, z:100, style:{text:'Rest-frame days since maximum', fontFamily:LABEL_FONT, fontSize:40, fill:'#000', align:'center', verticalAlign:'middle'}},
  {type:'text', x:2034, y:1422, z:100, style:{text:'Rest-frame days since maximum', fontFamily:LABEL_FONT, fontSize:40, fill:'#000', align:'center', verticalAlign:'middle'}},
  // annotation text
  {type:'text', x:1622, y:973, z:100, style:{text:annotText[0], fontFamily:'Liberation Sans', fontSize:52, fill:'#c39be3', align:'center', verticalAlign:'middle'}},
  {type:'text', x:1622, y:1035, z:100, style:{text:annotText[1], fontFamily:'Liberation Sans', fontSize:52, fill:'#c39be3', align:'center', verticalAlign:'middle'}},
  // page number
  {type:'text', x:2637, y:1436, z:100, style:{text:'7', fontFamily:LABEL_FONT, fontSize:26, fill:'#000', align:'center', verticalAlign:'middle'}}
];

const chart = echarts.init(document.getElementById('c'), null, {renderer:'canvas', width:2677, height:1446});
chart.setOption({
  backgroundColor:'#ffffff',
  animation:false,
  grid:[
    {left:184, top:28, width:1197, height:1295, containLabel:false},
    {left:1435, top:28, width:1197, height:1295, containLabel:false}
  ],
  xAxis: xAxesFor(0, true).concat(xAxesFor(1, true)),
  yAxis: yAxesFor(0, true).concat(yAxesFor(1, false)),
  series: series,
  graphic: graphic
});
</script></body></html>
